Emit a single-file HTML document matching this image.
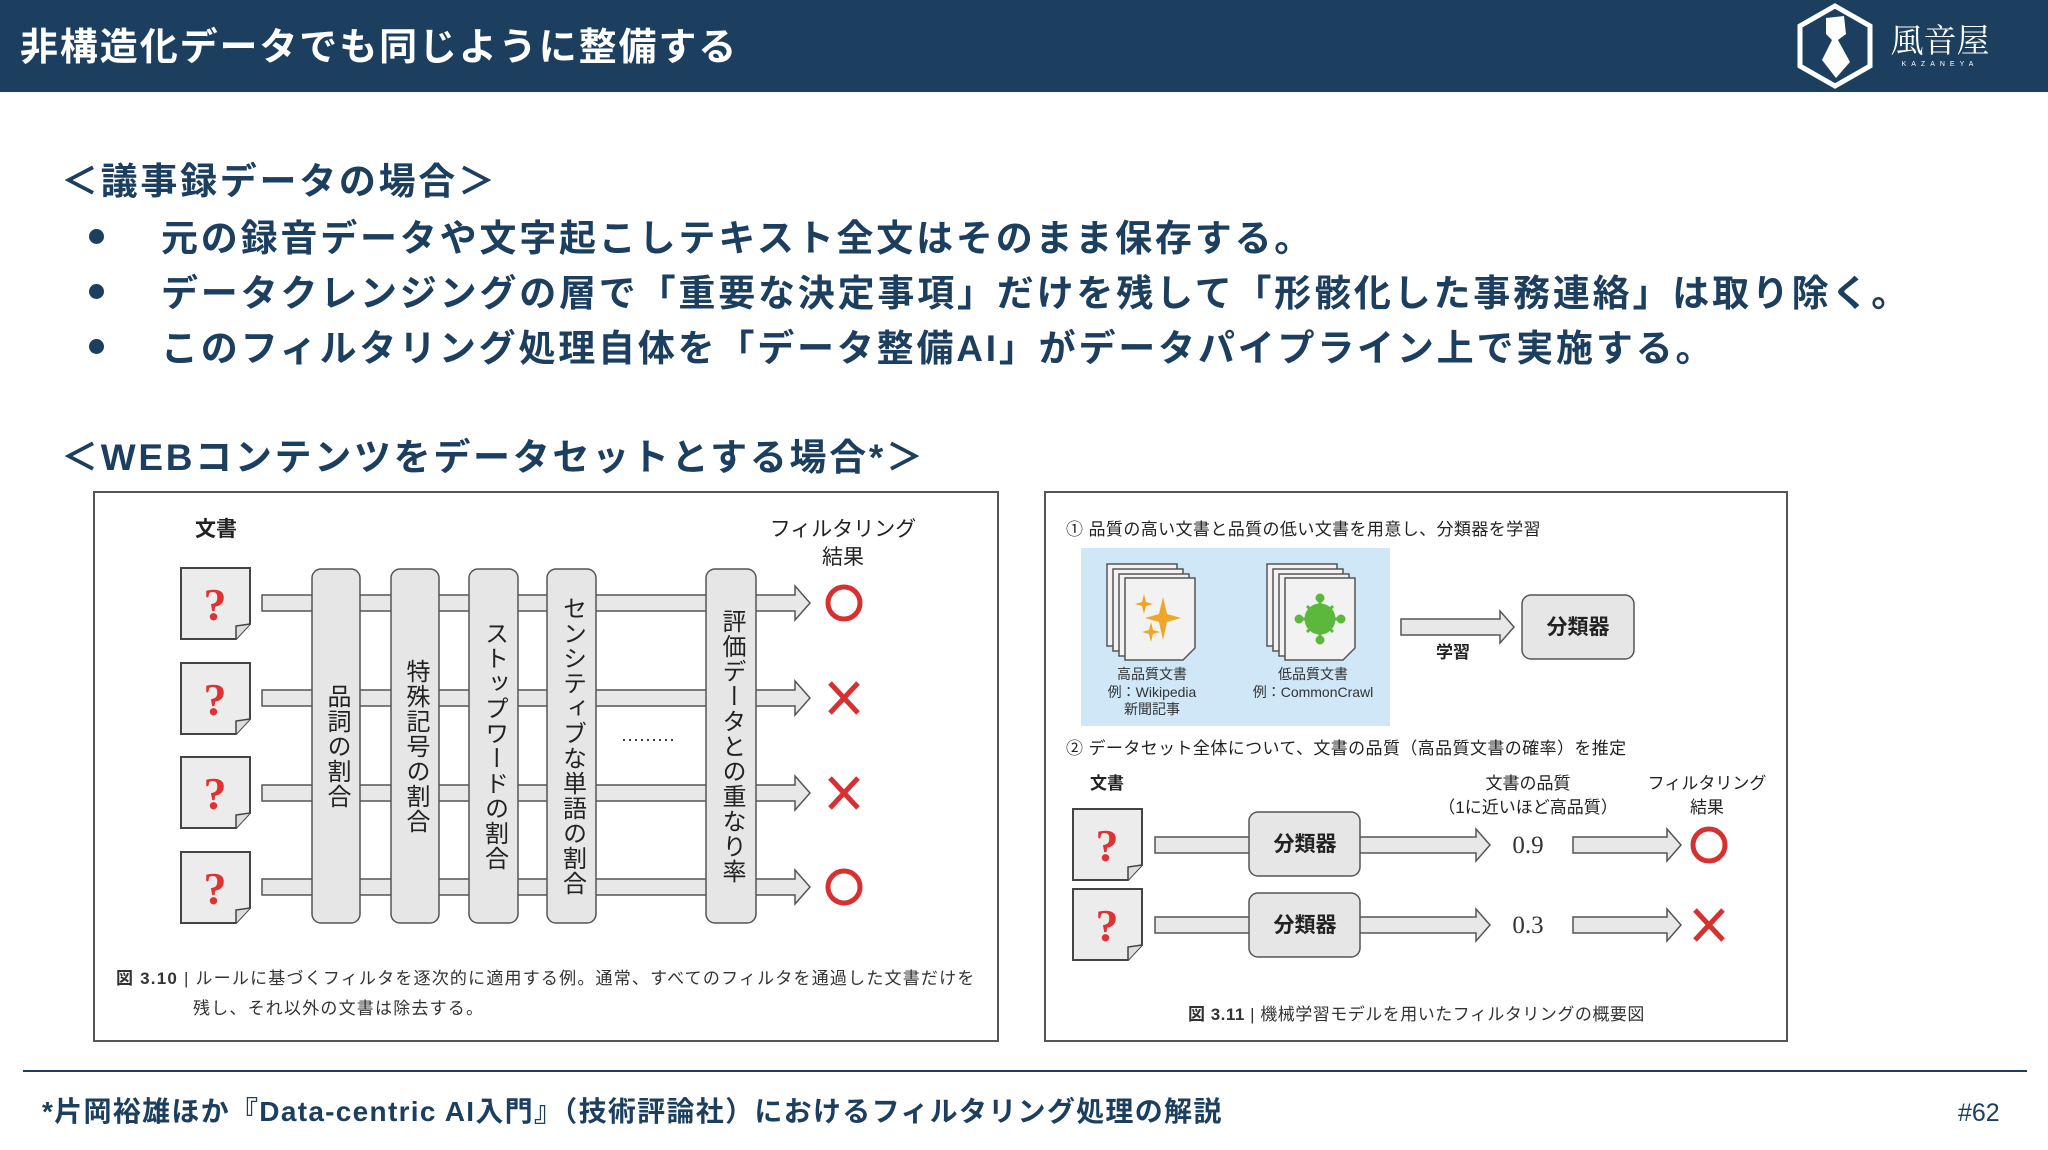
<!DOCTYPE html>
<html><head><meta charset="utf-8">
<style>
html,body{margin:0;padding:0;}
body{width:2048px;height:1150px;position:relative;background:#fff;overflow:hidden;font-family:"Liberation Sans","Noto Sans CJK JP",sans-serif;}
.a{position:absolute;white-space:nowrap;}
.hdr{position:absolute;left:0;top:0;width:2048px;height:92px;background:#1c3f60;}
.nv{color:#1c3f60;font-weight:bold;}
.vt{position:absolute;writing-mode:vertical-rl;font-size:24px;color:#222;line-height:1;letter-spacing:1px;display:flex;align-items:center;justify-content:center;}
.dot{position:absolute;width:15px;height:15px;border-radius:50%;background:#1c3f60;}
</style></head><body>
<div class="hdr"></div>
<div class="a" style="left:20px;top:16px;font-size:38px;font-weight:bold;color:#fff;letter-spacing:1.9px;">非構造化データでも同じように整備する</div>
<svg class="a" style="left:0;top:0" width="2048" height="92">
  <polygon points="1835,6 1870,26 1870,66 1835,86 1800,66 1800,26" fill="none" stroke="#fff" stroke-width="5"/>
  <path d="M1826,18 L1844,16 L1846,34 L1838,40 L1850,62 L1836,78 L1822,60 L1832,40 L1826,34 Z" fill="#fff"/>
  <text x="1940" y="52" text-anchor="middle" fill="#fff" font-size="33" font-family="Noto Serif CJK SC, serif">風音屋</text>
  <text x="1940" y="66" text-anchor="middle" fill="#fff" font-size="7" letter-spacing="5" font-family="Liberation Sans, sans-serif">KAZANEYA</text>
</svg>

<div class="a nv" style="left:61px;top:151px;font-size:37px;letter-spacing:2.7px;">＜議事録データの場合＞</div>
<div class="dot" style="left:89px;top:229px;"></div>
<div class="dot" style="left:89px;top:284px;"></div>
<div class="dot" style="left:89px;top:339px;"></div>
<div class="a nv" style="left:161px;top:208px;font-size:37px;letter-spacing:2.8px;">元の録音データや文字起こしテキスト全文はそのまま保存する。</div>
<div class="a nv" style="left:161px;top:263px;font-size:37px;letter-spacing:2.8px;">データクレンジングの層で「重要な決定事項」だけを残して「形骸化した事務連絡」は取り除く。</div>
<div class="a nv" style="left:161px;top:318px;font-size:37px;letter-spacing:2.8px;">このフィルタリング処理自体を「データ整備AI」がデータパイプライン上で実施する。</div>
<div class="a nv" style="left:61px;top:427px;font-size:37px;letter-spacing:2.7px;">＜WEBコンテンツをデータセットとする場合*＞</div>

<svg class="a" style="left:0;top:0" width="2048" height="1150" font-family="Liberation Sans, Noto Sans CJK JP, sans-serif">
  <defs>
    <g id="doc">
      <path d="M0,0 H69 V56 L55,71 H0 Z" fill="#ececec" stroke="#444" stroke-width="2"/>
      <path d="M69,56 L55,58 L55,71" fill="#ddd" stroke="#444" stroke-width="1.5"/>
      <text x="34" y="52" text-anchor="middle" font-size="46" font-weight="bold" fill="#d33" font-family="Liberation Serif, serif">?</text>
    </g>
    <g id="page">
      <path d="M0,0 H70 V70 L58,82 H0 Z" fill="#f2f2f2" stroke="#555" stroke-width="1.5"/>
    </g>
  </defs>
  <!-- left figure -->
  <rect x="94" y="492" width="904" height="549" fill="#fff" stroke="#555" stroke-width="2"/>
  <text x="216" y="536" text-anchor="middle" font-size="21" font-weight="bold" fill="#222">文書</text>
  <text x="843" y="536" text-anchor="middle" font-size="21" fill="#222">フィルタリング</text>
  <text x="843" y="564" text-anchor="middle" font-size="21" fill="#222">結果</text>
  <g fill="#e8e8e8" stroke="#555" stroke-width="1.5">
    <polygon points="262,595 795,595 795,586 810,603 795,620 795,611 262,611"/>
    <polygon points="262,690 795,690 795,681 810,698 795,715 795,706 262,706"/>
    <polygon points="262,785 795,785 795,776 810,793 795,810 795,801 262,801"/>
    <polygon points="262,879 795,879 795,870 810,887 795,904 795,895 262,895"/>
  </g>
  <use href="#doc" x="181" y="568"/><use href="#doc" x="181" y="663"/><use href="#doc" x="181" y="757"/><use href="#doc" x="181" y="852"/>
  <g fill="#e6e6e6" stroke="#555" stroke-width="1.5">
    <rect x="312" y="569" width="48" height="354" rx="9"/>
    <rect x="391" y="569" width="48" height="354" rx="9"/>
    <rect x="469" y="569" width="49" height="354" rx="9"/>
    <rect x="547" y="569" width="49" height="354" rx="9"/>
    <rect x="706" y="569" width="50" height="354" rx="9"/>
  </g>
  <text x="648" y="745" text-anchor="middle" font-size="18" fill="#222">·········</text>
  <g stroke="#d63030" stroke-width="5" fill="none">
    <circle cx="844" cy="603" r="16"/>
    <path d="M830,683 L858,713 M858,683 L830,713"/>
    <path d="M830,778 L858,808 M858,778 L830,808"/>
    <circle cx="844" cy="887" r="16"/>
  </g>
  <text x="116" y="984" font-size="17" fill="#333" letter-spacing="1.2"><tspan font-weight="bold">図 3.10</tspan> | ルールに基づくフィルタを逐次的に適用する例。通常、すべてのフィルタを通過した文書だけを</text>
  <text x="193" y="1014" font-size="17" fill="#333" letter-spacing="1.2">残し、それ以外の文書は除去する。</text>

  <!-- right figure -->
  <rect x="1045" y="492" width="742" height="549" fill="#fff" stroke="#555" stroke-width="2"/>
  <text x="1066" y="535" font-size="17" fill="#222" letter-spacing="0.4">① 品質の高い文書と品質の低い文書を用意し、分類器を学習</text>
  <rect x="1081" y="548" width="309" height="178" fill="#cfe7f6"/>
  <use href="#page" x="1107" y="564"/><use href="#page" x="1113" y="569"/><use href="#page" x="1119" y="574"/><use href="#page" x="1125" y="578"/>
  <use href="#page" x="1267" y="564"/><use href="#page" x="1273" y="569"/><use href="#page" x="1279" y="574"/><use href="#page" x="1285" y="578"/>
  <g fill="#f0a526">
    <path d="M1163,597 L1167,614 L1181,618 L1167,622 L1163,640 L1159,622 L1145,618 L1159,614 Z"/>
    <path d="M1144,594 L1146,602 L1153,604 L1146,606 L1144,614 L1142,606 L1135,604 L1142,602 Z"/>
    <path d="M1151,622 L1153,630 L1160,632 L1153,634 L1151,642 L1149,634 L1142,632 L1149,630 Z"/>
  </g>
  <g stroke="#5cb83c" stroke-width="3" fill="#5cb83c">
    <circle cx="1320" cy="619" r="14"/>
    <path d="M1320,600 V605 M1320,633 V638 M1301,619 H1306 M1334,619 H1339 M1307,606 L1310,609 M1333,632 L1330,629 M1333,606 L1330,609 M1307,632 L1310,629" fill="none"/>
    <circle cx="1320" cy="598" r="3"/><circle cx="1320" cy="640" r="3"/><circle cx="1299" cy="619" r="3"/><circle cx="1341" cy="619" r="3"/>
  </g>
  <g font-size="14" fill="#333" text-anchor="middle">
    <text x="1152" y="679">高品質文書</text><text x="1152" y="697">例：Wikipedia</text><text x="1152" y="714">新聞記事</text>
    <text x="1313" y="679">低品質文書</text><text x="1313" y="697">例：CommonCrawl</text>
  </g>
  <polygon points="1401,619 1500,619 1500,611 1514,627 1500,643 1500,635 1401,635" fill="#e8e8e8" stroke="#555" stroke-width="1.5"/>
  <text x="1453" y="658" text-anchor="middle" font-size="17" font-weight="bold" fill="#222">学習</text>
  <rect x="1522" y="595" width="112" height="64" rx="9" fill="#e6e6e6" stroke="#555" stroke-width="1.5"/>
  <text x="1578" y="634" text-anchor="middle" font-size="21" font-weight="bold" fill="#222">分類器</text>
  <text x="1066" y="754" font-size="17" fill="#222" letter-spacing="0.4">② データセット全体について、文書の品質（高品質文書の確率）を推定</text>
  <text x="1107" y="789" text-anchor="middle" font-size="17" font-weight="bold" fill="#222">文書</text>
  <text x="1528" y="789" text-anchor="middle" font-size="17" fill="#222">文書の品質</text>
  <text x="1528" y="813" text-anchor="middle" font-size="17" fill="#222">（1に近いほど高品質）</text>
  <text x="1707" y="789" text-anchor="middle" font-size="17" fill="#222">フィルタリング</text>
  <text x="1707" y="813" text-anchor="middle" font-size="17" fill="#222">結果</text>
  <g fill="#e8e8e8" stroke="#555" stroke-width="1.5">
    <polygon points="1155,837 1476,837 1476,829 1490,845 1476,861 1476,853 1155,853"/>
    <polygon points="1155,917 1476,917 1476,909 1490,925 1476,941 1476,933 1155,933"/>
    <polygon points="1573,837 1667,837 1667,829 1681,845 1667,861 1667,853 1573,853"/>
    <polygon points="1573,917 1667,917 1667,909 1681,925 1667,941 1667,933 1573,933"/>
  </g>
  <use href="#doc" x="1073" y="809"/><use href="#doc" x="1073" y="889"/>
  <rect x="1249" y="812" width="111" height="64" rx="9" fill="#e6e6e6" stroke="#555" stroke-width="1.5"/>
  <rect x="1249" y="893" width="111" height="64" rx="9" fill="#e6e6e6" stroke="#555" stroke-width="1.5"/>
  <text x="1305" y="851" text-anchor="middle" font-size="21" font-weight="bold" fill="#222">分類器</text>
  <text x="1305" y="932" text-anchor="middle" font-size="21" font-weight="bold" fill="#222">分類器</text>
  <text x="1528" y="853" text-anchor="middle" font-size="25" fill="#333" font-family="Liberation Serif, serif">0.9</text>
  <text x="1528" y="933" text-anchor="middle" font-size="25" fill="#333" font-family="Liberation Serif, serif">0.3</text>
  <g stroke="#d63030" stroke-width="5" fill="none">
    <circle cx="1709" cy="845" r="16"/>
    <path d="M1695,910 L1723,940 M1723,910 L1695,940"/>
  </g>
  <text x="1188" y="1020" font-size="17" fill="#333" letter-spacing="0.5"><tspan font-weight="bold">図 3.11</tspan> | 機械学習モデルを用いたフィルタリングの概要図</text>

  <line x1="23" y1="1071" x2="2027" y2="1071" stroke="#1c3f60" stroke-width="2"/>
</svg>

<div class="vt" style="left:312px;top:569px;width:48px;height:354px;">品詞の割合</div>
<div class="vt" style="left:391px;top:569px;width:48px;height:354px;">特殊記号の割合</div>
<div class="vt" style="left:469px;top:569px;width:49px;height:354px;">ストップワードの割合</div>
<div class="vt" style="left:547px;top:569px;width:49px;height:354px;">センシティブな単語の割合</div>
<div class="vt" style="left:706px;top:569px;width:50px;height:354px;">評価データとの重なり率</div>

<div class="a nv" style="left:42px;top:1090px;font-size:28px;letter-spacing:1.3px;">*片岡裕雄ほか『Data-centric AI入門』（技術評論社）におけるフィルタリング処理の解説</div>
<div class="a" style="left:1958px;top:1099px;font-size:25px;color:#1c3f60;">#62</div>
</body></html>
